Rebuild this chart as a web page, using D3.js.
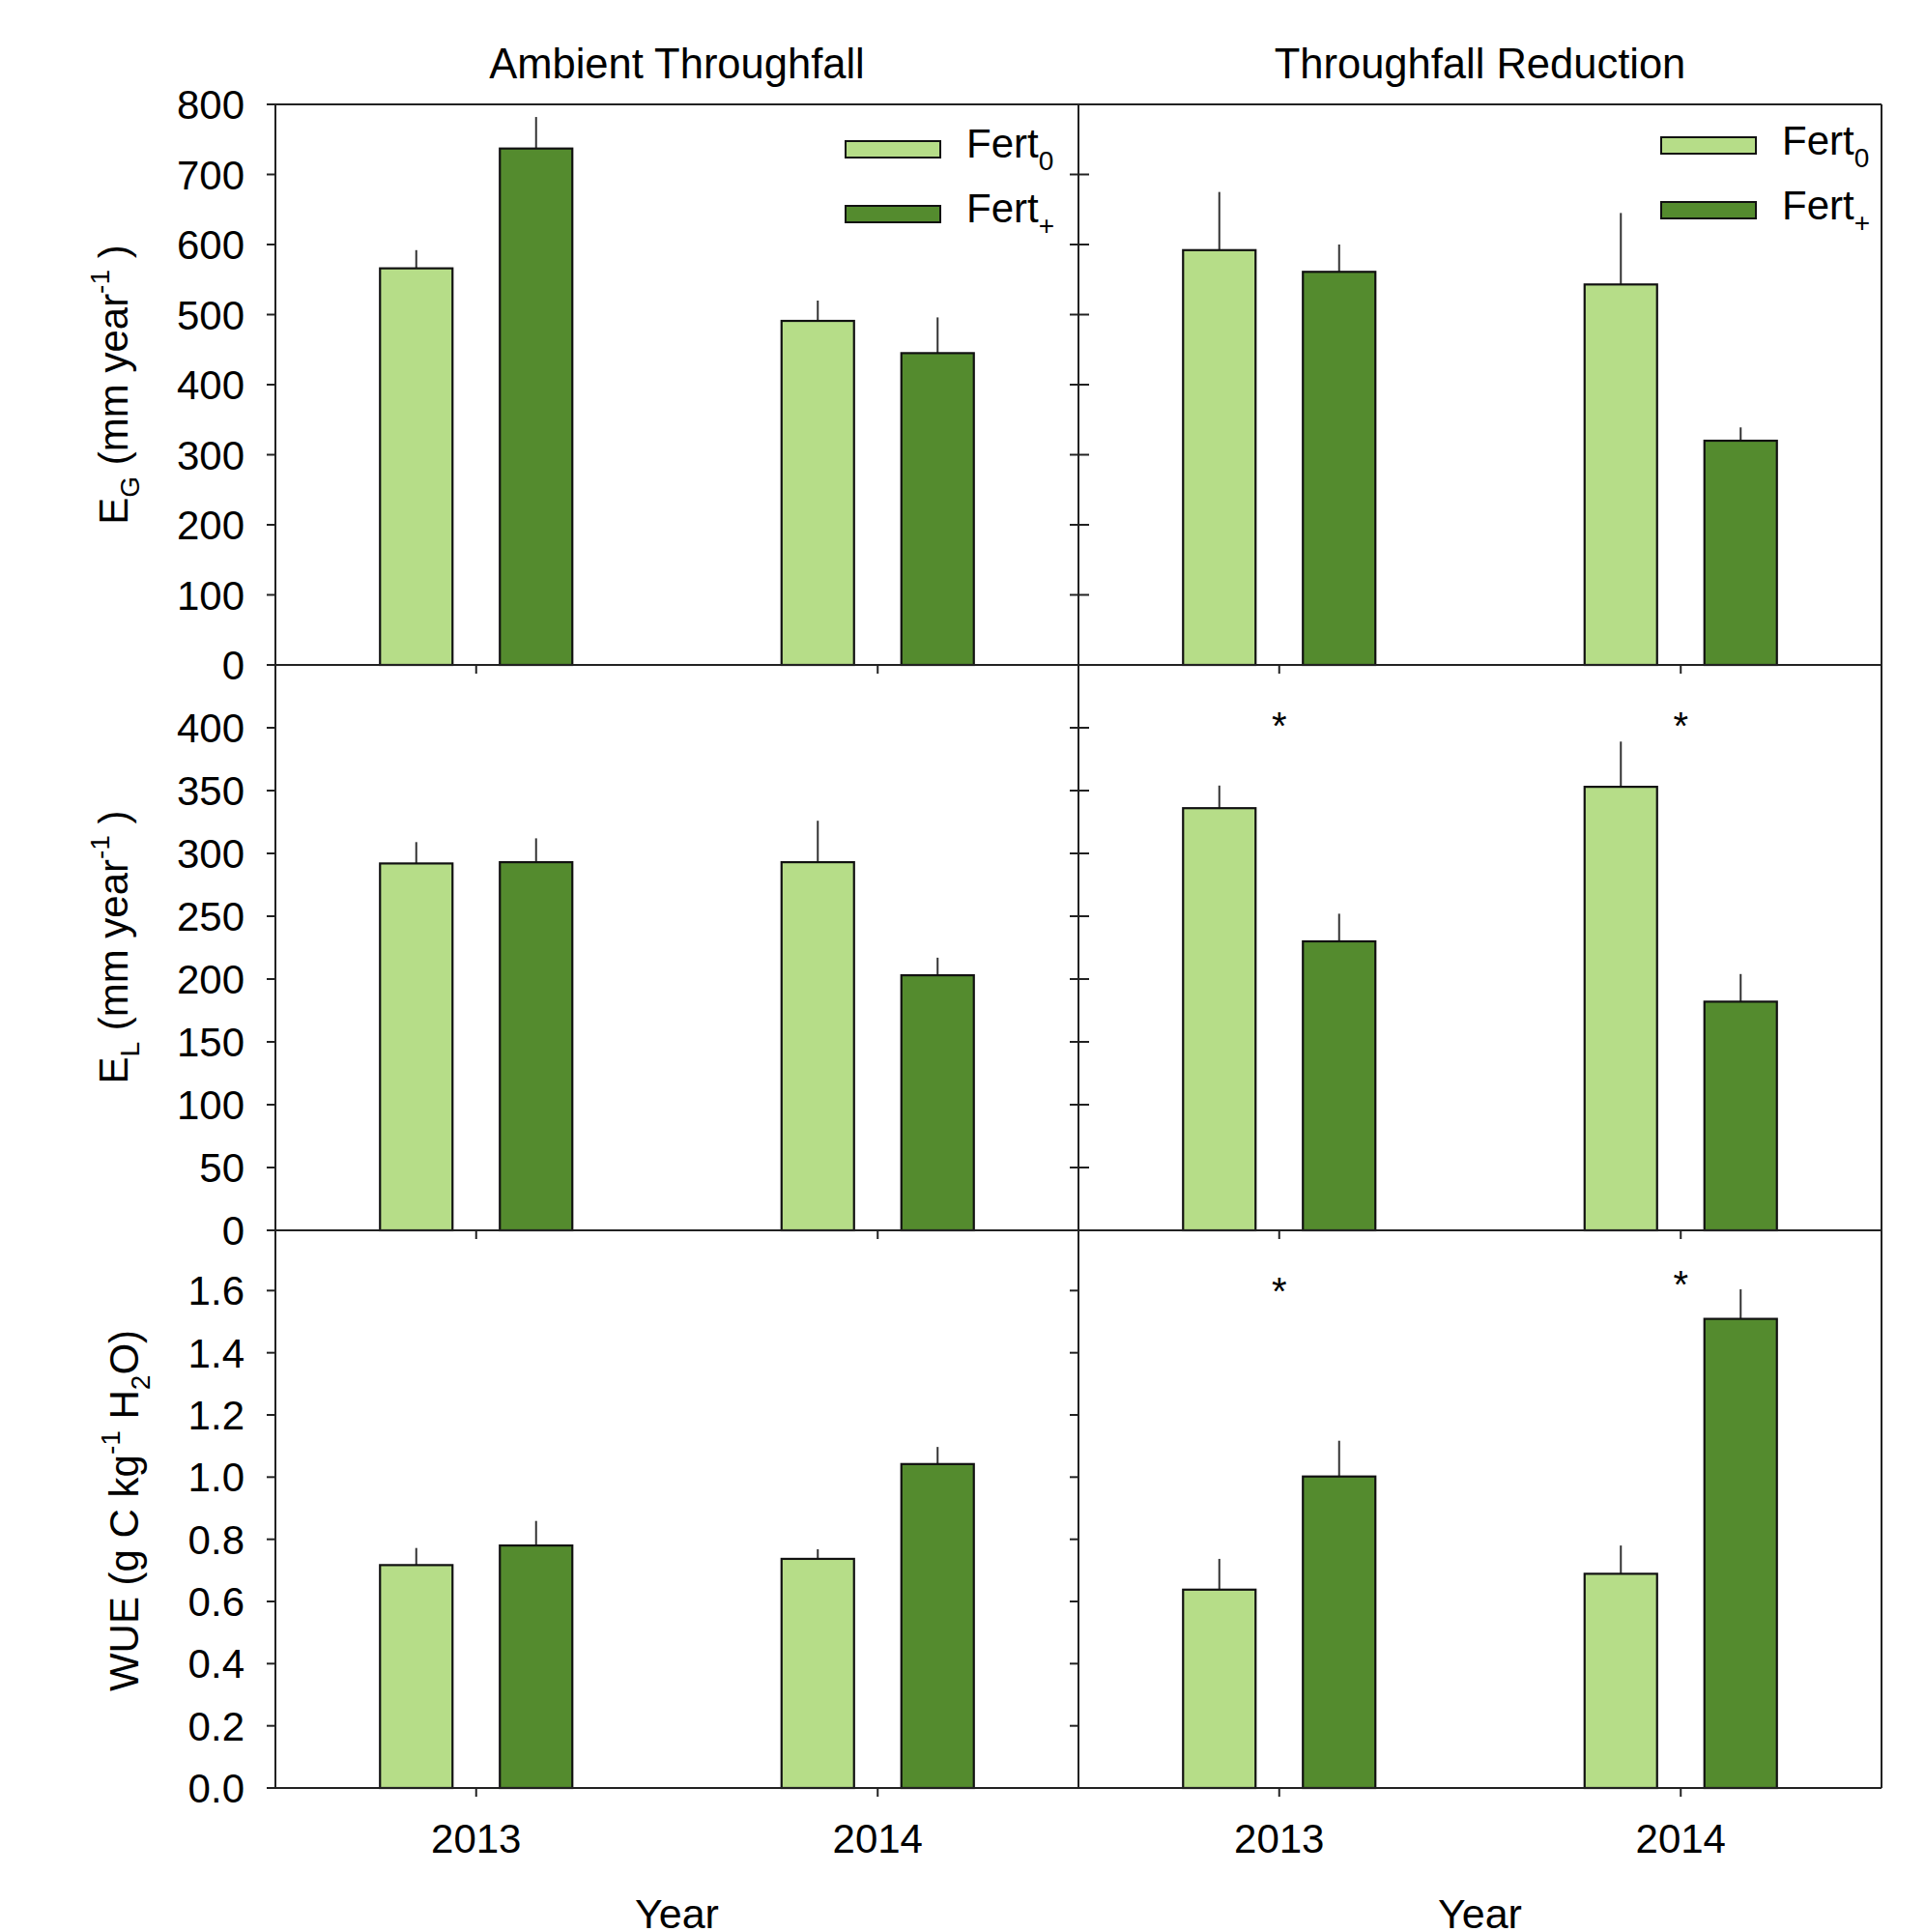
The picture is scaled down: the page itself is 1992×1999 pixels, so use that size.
<!DOCTYPE html>
<html><head><meta charset="utf-8">
<script src="https://cdn.jsdelivr.net/npm/d3@7"></script>
<style>
body{margin:0;background:#fff}
text{font-family:"Liberation Sans",Arial,sans-serif;fill:#000}
</style>
</head><body>
<svg id="c" width="1992" height="1999"></svg>
<script>
// ---------- data ----------
const years = ["2013", "2014"];
const treatments = ["Ambient Throughfall", "Throughfall Reduction"];
const series = ["Fert0", "Fert+"];

// E_G (mm year-1): means and standard errors, [2013, 2014]
const egAmbFert0 = [566, 491],  egAmbFert0Se = [26, 29];
const egAmbFertP = [737, 445],  egAmbFertPSe = [45, 51];
const egRedFert0 = [592, 543],  egRedFert0Se = [83, 102];
const egRedFertP = [561, 320],  egRedFertPSe = [39, 19];

// E_L (mm year-1)
const elAmbFert0 = [292, 293],  elAmbFert0Se = [17, 33];
const elAmbFertP = [293, 203],  elAmbFertPSe = [19, 14];
const elRedFert0 = [336, 353],  elRedFert0Se = [18, 36];
const elRedFertP = [230, 182],  elRedFertPSe = [22, 22];

// WUE (g C kg-1 H2O)
const wueAmbFert0 = [0.717, 0.737], wueAmbFert0Se = [0.055, 0.031];
const wueAmbFertP = [0.780, 1.042], wueAmbFertPSe = [0.079, 0.055];
const wueRedFert0 = [0.638, 0.689], wueRedFert0Se = [0.099, 0.091];
const wueRedFertP = [1.002, 1.509], wueRedFertPSe = [0.115, 0.095];

// significance markers (y position in data units), reduction panels only
const elRedStars  = [406, 406];
const wueRedStars = [1.618, 1.638];

// tick values
const egTicks  = [0,100,200,300,400,500,600,700,800];
const elTicks  = [0,50,100,150,200,250,300,350,400];
const wueTicks = [0,0.2,0.4,0.6,0.8,1.0,1.2,1.4,1.6];

// ---------- build ----------
const rows = [
  {domain:[0,800], ticks:egTicks, fmt:d3.format("d"),
   panels:[
     {means:[egAmbFert0, egAmbFertP], se:[egAmbFert0Se, egAmbFertPSe], stars:null},
     {means:[egRedFert0, egRedFertP], se:[egRedFert0Se, egRedFertPSe], stars:null}]},
  {domain:[0,450], ticks:elTicks, fmt:d3.format("d"),
   panels:[
     {means:[elAmbFert0, elAmbFertP], se:[elAmbFert0Se, elAmbFertPSe], stars:null},
     {means:[elRedFert0, elRedFertP], se:[elRedFert0Se, elRedFertPSe], stars:elRedStars}]},
  {domain:[0,1.8], ticks:wueTicks, fmt:d3.format(".1f"),
   panels:[
     {means:[wueAmbFert0, wueAmbFertP], se:[wueAmbFert0Se, wueAmbFertPSe], stars:null},
     {means:[wueRedFert0, wueRedFertP], se:[wueRedFert0Se, wueRedFertPSe], stars:wueRedStars}]}
];

const colors = {"Fert0":"#b6dd88", "Fert+":"#548b2e"};

const svg = d3.select("#c");
const panelX = [285, 1116];
const panelW = 831;
const rowTop = [108, 688, 1273];
const rowBot = [688, 1273, 1850];
const scaleTop = [108, 688, 1271];
const FS = 42;

const x = d3.scaleBand().domain(years).range([0, panelW]).paddingInner(0).paddingOuter(0);
const xs = d3.scaleBand().domain(series).range([-99.5, 99.5]).paddingInner(0.395).paddingOuter(0);

rows.forEach((row, ri) => {
  const y = d3.scaleLinear().domain(row.domain).range([rowBot[ri], scaleTop[ri]]);
  row.panels.forEach((p, pi) => {
    const g = svg.append("g").attr("transform", `translate(${panelX[pi]},0)`);
    // bars
    series.forEach((s, si) => {
      years.forEach((yr, yi) => {
        const cx = x(yr) + x.bandwidth()/2;
        const bx = cx + xs(s);
        const v = p.means[si][yi];
        const e = p.se[si][yi];
        g.append("line")
          .attr("x1", bx + xs.bandwidth()/2).attr("x2", bx + xs.bandwidth()/2)
          .attr("y1", y(v)).attr("y2", y(v + e))
          .attr("stroke", "#333").attr("stroke-width", 2);
        g.append("rect")
          .attr("x", bx).attr("width", xs.bandwidth())
          .attr("y", y(v)).attr("height", y(0) - y(v))
          .attr("fill", colors[s]).attr("stroke", "#111").attr("stroke-width", 2.2);
      });
    });
    // stars
    if (p.stars) {
      years.forEach((yr, yi) => {
        g.append("text")
          .attr("x", x(yr) + x.bandwidth()/2)
          .attr("y", y(p.stars[yi]) + 20)
          .attr("text-anchor", "middle")
          .attr("font-size", 40)
          .text("*");
      });
    }
    // x ticks (down)
    years.forEach(yr => {
      const cx = x(yr) + x.bandwidth()/2;
      g.append("line").attr("x1", cx).attr("x2", cx)
        .attr("y1", rowBot[ri]).attr("y2", rowBot[ri] + 9)
        .attr("stroke", "#222").attr("stroke-width", 2);
      if (ri === 2) {
        g.append("text").attr("x", cx).attr("y", rowBot[ri] + 67)
          .attr("text-anchor", "middle").attr("font-size", FS).text(yr);
      }
    });
    // y ticks
    row.ticks.forEach(t => {
      const ty = y(t);
      if (pi === 0) {
        g.append("line").attr("x1", -9).attr("x2", 0).attr("y1", ty).attr("y2", ty)
          .attr("stroke", "#222").attr("stroke-width", 2);
        g.append("text").attr("x", -32).attr("y", ty + 15)
          .attr("text-anchor", "end").attr("font-size", FS).text(row.fmt(t));
      } else {
        const inner = ri < 2 ? 11 : 0;
        g.append("line").attr("x1", -9).attr("x2", inner).attr("y1", ty).attr("y2", ty)
          .attr("stroke", "#222").attr("stroke-width", 2);
      }
    });
    // axis lines
    g.append("line").attr("x1", 0).attr("x2", 0).attr("y1", rowTop[ri]).attr("y2", rowBot[ri])
      .attr("stroke", "#222").attr("stroke-width", 2);
    g.append("line").attr("x1", 0).attr("x2", panelW).attr("y1", rowBot[ri]).attr("y2", rowBot[ri])
      .attr("stroke", "#222").attr("stroke-width", 2);
    if (ri === 0) {
      g.append("line").attr("x1", 0).attr("x2", panelW).attr("y1", rowTop[0]).attr("y2", rowTop[0])
        .attr("stroke", "#222").attr("stroke-width", 2);
    }
    if (pi === 1) {
      g.append("line").attr("x1", panelW).attr("x2", panelW).attr("y1", rowTop[ri]).attr("y2", rowBot[ri])
        .attr("stroke", "#222").attr("stroke-width", 2);
    }
  });
});

// panel titles and x titles
treatments.forEach((t, i) => {
  svg.append("text").attr("x", panelX[i] + panelW/2).attr("y", 81)
    .attr("text-anchor", "middle").attr("font-size", 43.5).text(t);
  svg.append("text").attr("x", panelX[i] + panelW/2).attr("y", 1995)
    .attr("text-anchor", "middle").attr("font-size", 43).text("Year");
});

// legends
const legendPos = [{sx:875, sy:[146,213], tx:1000, ty:[163,230]},
                   {sx:1719, sy:[142,209], tx:1844, ty:[160,227]}];
const subs = ["0", "+"];
legendPos.forEach(L => {
  series.forEach((s, si) => {
    svg.append("rect").attr("x", L.sx).attr("y", L.sy[si]).attr("width", 98).attr("height", 17)
      .attr("fill", colors[s]).attr("stroke", "#111").attr("stroke-width", 2);
    const t = svg.append("text").attr("x", L.tx).attr("y", L.ty[si]).attr("font-size", FS);
    t.append("tspan").text("Fert");
    t.append("tspan").attr("font-size", 28).attr("dy", 13).text(subs[si]);
  });
});

// y axis labels
function ylab(xpos, ycen, build) {
  const t = svg.append("text").attr("transform", `translate(${xpos},${ycen}) rotate(-90)`)
    .attr("text-anchor", "middle").attr("font-size", FS);
  build(t);
}
ylab(132, 398, t => {
  t.append("tspan").text("E");
  t.append("tspan").attr("font-size", 28).attr("dy", 12).text("G");
  t.append("tspan").attr("dy", -12).text(" (mm year");
  t.append("tspan").attr("font-size", 28).attr("dy", -19).text("-1");
  t.append("tspan").attr("dy", 19).text(" )");
});
ylab(132, 980, t => {
  t.append("tspan").text("E");
  t.append("tspan").attr("font-size", 28).attr("dy", 12).text("L");
  t.append("tspan").attr("dy", -12).text(" (mm year");
  t.append("tspan").attr("font-size", 28).attr("dy", -19).text("-1");
  t.append("tspan").attr("dy", 19).text(" )");
});
ylab(143, 1563, t => {
  t.append("tspan").text("WUE (g C kg");
  t.append("tspan").attr("font-size", 28).attr("dy", -19).text("-1");
  t.append("tspan").attr("dy", 19).text(" H");
  t.append("tspan").attr("font-size", 28).attr("dy", 12).text("2");
  t.append("tspan").attr("dy", -12).text("O)");
});
</script>
</body></html>
